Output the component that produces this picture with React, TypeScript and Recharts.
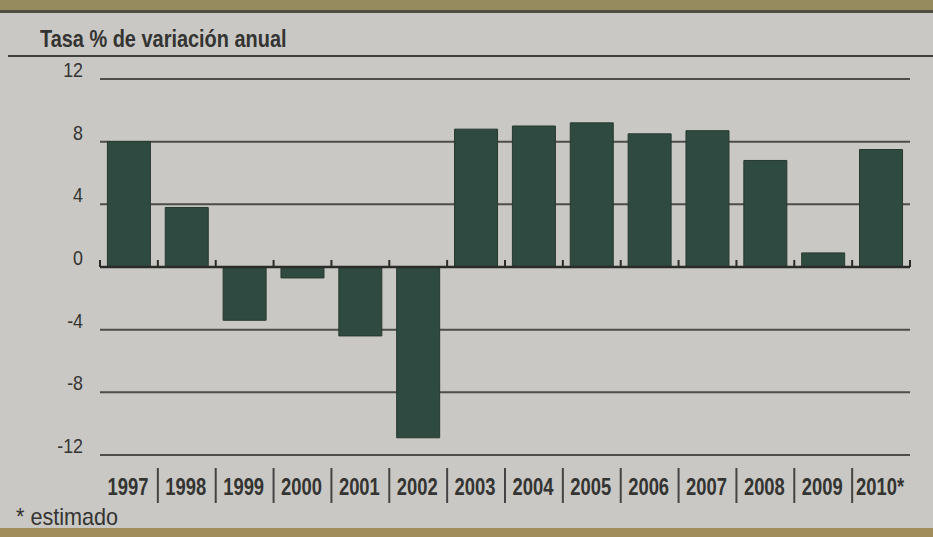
import { BarChart, Bar, XAxis, YAxis, CartesianGrid, ReferenceLine } from 'recharts';

const years = ['1997', '1998', '1999', '2000', '2001', '2002', '2003', '2004', '2005', '2006', '2007', '2008', '2009', '2010*'];
const growth = [8.0, 3.8, -3.4, -0.7, -4.4, -10.9, 8.8, 9.0, 9.2, 8.5, 8.7, 6.8, 0.9, 7.5];
const yTicks = [-12, -8, -4, 0, 4, 8, 12];

const data = years.map((year, i) => ({ year, value: growth[i] }));

// no narrow face installed, so squeeze Liberation Sans horizontally
const FONT = "'Liberation Sans', Arial, sans-serif";
const BG = '#c9c8c4';
const INK = '#343432';
const BAR = '#2f4a41';

function YearTick(props: any) {
  const { x, y, payload, index } = props;
  const half = payload.offset ?? 0;
  return (
    <g>
      {index > 0 && (
        <line x1={x - half} x2={x - half} y1={y + 13} y2={y + 48} stroke="#444" strokeWidth={2} />
      )}
      <text
        transform={`translate(${x - 1},${y + 40}) scale(0.8,1)`}
        textAnchor="middle"
        fontFamily={FONT}
        fontWeight="bold"
        fontSize={23}
        fill={INK}
      >
        {payload.value}
      </text>
    </g>
  );
}

function ValueTick(props: any) {
  const { x, y, payload } = props;
  return (
    <text
      transform={`translate(${x},${y - 2}) scale(0.85,1)`}
      textAnchor="end"
      fontFamily={FONT}
      fontSize={21}
      fill={INK}
    >
      {payload.value}
    </text>
  );
}

export default function App() {
  return (
    <div style={{ position: 'absolute', left: 0, top: 0, width: 933, height: 537, background: BG, overflow: 'hidden' }}>
      {/* page frame */}
      <div style={{ position: 'absolute', left: 0, top: 0, width: 933, height: 11, background: '#968b5e' }} />
      <div style={{ position: 'absolute', left: 0, top: 10, width: 933, height: 3, background: '#4f4c42' }} />
      <div style={{ position: 'absolute', left: 0, top: 528, width: 933, height: 9, background: '#a18d5c' }} />
      <div
        style={{
          position: 'absolute',
          left: 40,
          top: 25,
          fontFamily: FONT,
          fontWeight: 'bold',
          fontSize: 24,
          color: INK,
          lineHeight: '28px',
          whiteSpace: 'nowrap',
          transform: 'scaleX(0.83)',
          transformOrigin: 'left top',
        }}
      >
        Tasa % de variación anual
      </div>
      <div style={{ position: 'absolute', left: 8, top: 55, width: 925, height: 2, background: '#3f3f3d' }} />
      <div
        style={{
          position: 'absolute',
          left: 16,
          top: 503,
          fontFamily: FONT,
          fontSize: 24,
          color: INK,
          lineHeight: '28px',
          whiteSpace: 'nowrap',
          transform: 'scaleX(0.9)',
          transformOrigin: 'left top',
        }}
      >
        * estimado
      </div>

      <div style={{ position: 'absolute', left: 0, top: 0 }}>
        <BarChart width={933} height={537} data={data} margin={{ top: 79, right: 23, bottom: 0, left: 0 }} barCategoryGap={7.4}>
          <CartesianGrid vertical={false} stroke="#4d4d4b" strokeWidth={2} />
          <XAxis
            dataKey="year"
            axisLine={false}
            tickLine={false}
            tickSize={0}
            tickMargin={0}
            height={82}
            interval={0}
            tick={<YearTick />}
          />
          <YAxis
            domain={[-12, 12]}
            ticks={yTicks}
            axisLine={false}
            tickLine={false}
            tickSize={0}
            tickMargin={17}
            width={100}
            interval={0}
            tick={<ValueTick />}
          />
          <Bar dataKey="value" fill={BAR} stroke="#26392f" strokeWidth={1} isAnimationActive={false} />
          <ReferenceLine y={0} stroke="#2b2b29" strokeWidth={2.5} />
          {years.map((year) => (
            <ReferenceLine
              key={`t-${year}`}
              segment={[{ x: year, y: 0 }, { x: year, y: 0.45 }]}
              position="start"
              stroke="#2b2b29"
              strokeWidth={2}
            />
          ))}
          <ReferenceLine
            segment={[{ x: years[years.length - 1], y: 0 }, { x: years[years.length - 1], y: 0.45 }]}
            position="end"
            stroke="#2b2b29"
            strokeWidth={2}
          />
        </BarChart>
      </div>
    </div>
  );
}
